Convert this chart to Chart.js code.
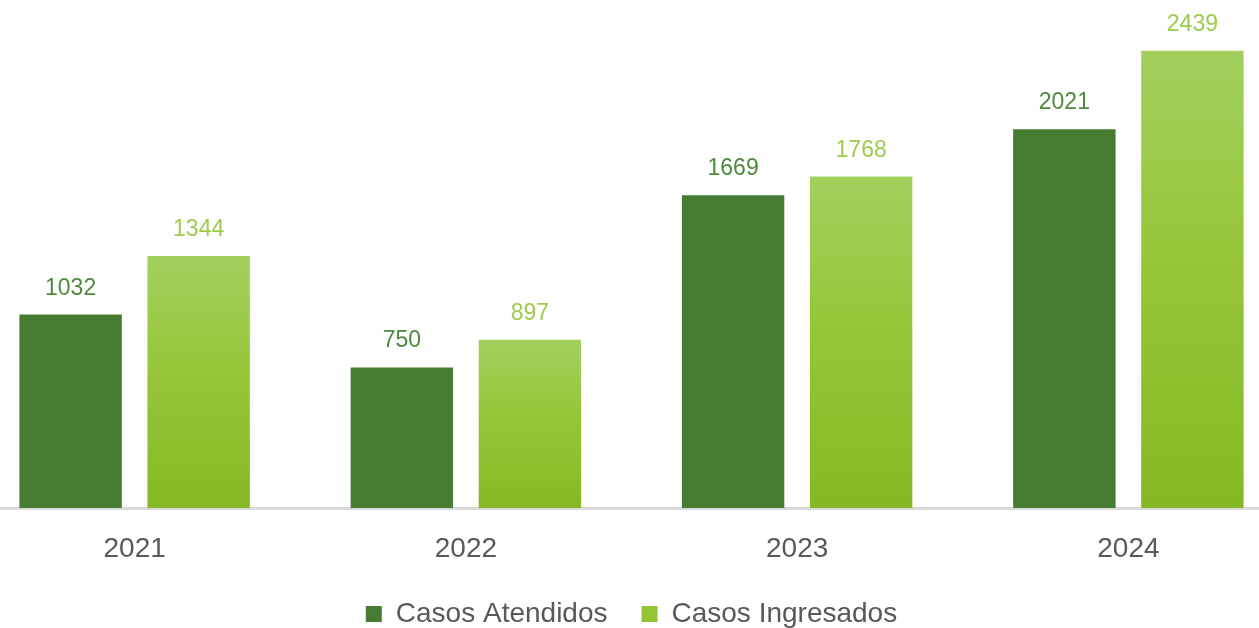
<!DOCTYPE html>
<html>
<head>
<meta charset="utf-8">
<script src="https://cdn.jsdelivr.net/npm/chart.js@4.4.1/dist/chart.umd.min.js"></script>
<style>
    html, body { margin: 0; padding: 0; background: #fff; overflow: hidden; }
    #wrap { position: absolute; left: -31px; top: 0; width: 1325px; height: 638px; }
</style>
</head>
<body>
<div id="wrap"><canvas id="casosChart"></canvas></div>
<script>
// datos
var categories = ['2021', '2022', '2023', '2024'];
var casosAtendidos = [1032, 750, 1669, 2021];
var casosIngresados = [1344, 897, 1768, 2439];
var seriesNames = ['Casos Atendidos', 'Casos Ingresados'];

var fontFamily = "'Liberation Sans', Arial, sans-serif";

// degradado de cada barra clara
function lightGradient(context) {
    var chart = context.chart;
    var area = chart.chartArea;
    if (!area || context.type !== 'data') return '#93c433';
    var y = chart.scales.y;
    var top = y.getPixelForValue(context.raw);
    var g = chart.ctx.createLinearGradient(0, top, 0, area.bottom);
    g.addColorStop(0, '#a3cf5d');
    g.addColorStop(0.5, '#95c535');
    g.addColorStop(1, '#86b825');
    return g;
}

// etiquetas encima de las barras
var valueLabels = {
    id: 'valueLabels',
    afterDatasetsDraw: function (chart) {
        var ctx = chart.ctx;
        var colors = ['#4e8a3c', '#9ccb4e'];
        ctx.save();
        ctx.font = '23px ' + fontFamily;
        ctx.textAlign = 'center';
        ctx.textBaseline = 'alphabetic';
        chart.data.datasets.forEach(function (ds, i) {
            ctx.fillStyle = colors[i];
            chart.getDatasetMeta(i).data.forEach(function (bar, j) {
                ctx.fillText(ds.data[j], bar.x, bar.y - 20);
            });
        });
        ctx.restore();
    }
};

var ctx = document.getElementById('casosChart').getContext('2d');
var casosChart = new Chart(ctx, {
    type: 'bar',
    data: {
        labels: categories,
        datasets: [{
            label: seriesNames[0],
            data: casosAtendidos,
            backgroundColor: '#467c32',
            categoryPercentage: 0.773,
            barPercentage: 0.8
        }, {
            label: seriesNames[1],
            data: casosIngresados,
            backgroundColor: lightGradient,
            categoryPercentage: 0.773,
            barPercentage: 0.8
        }]
    },
    options: {
        responsive: true,
        maintainAspectRatio: false,
        animation: false,
        layout: { padding: { top: 0, bottom: 0 } },
        scales: {
            y: {
                display: false,
                min: 0,
                max: 2710
            },
            x: {
                grid: { display: false },
                border: { color: '#d9d9d9', width: 3 },
                ticks: {
                    color: '#595959',
                    font: { family: fontFamily, size: 28 },
                    padding: 16
                },
                afterFit: function (axis) {
                    axis.height = 58;
                }
            }
        },
        plugins: {
            tooltip: { enabled: false },
            legend: {
                position: 'bottom',
                labels: {
                    color: '#595959',
                    font: { family: fontFamily, size: 28 },
                    boxWidth: 16,
                    boxHeight: 16,
                    padding: 34,
                    generateLabels: function (chart) {
                        return chart.data.datasets.map(function (ds, i) {
                            return {
                                text: ds.label,
                                fillStyle: i === 0 ? '#467c32' : '#93c433',
                                strokeStyle: 'rgba(0,0,0,0)',
                                lineWidth: 0,
                                fontColor: '#595959',
                                datasetIndex: i
                            };
                        });
                    }
                }
            }
        }
    },
    plugins: [valueLabels]
});
</script>
</body>
</html>
